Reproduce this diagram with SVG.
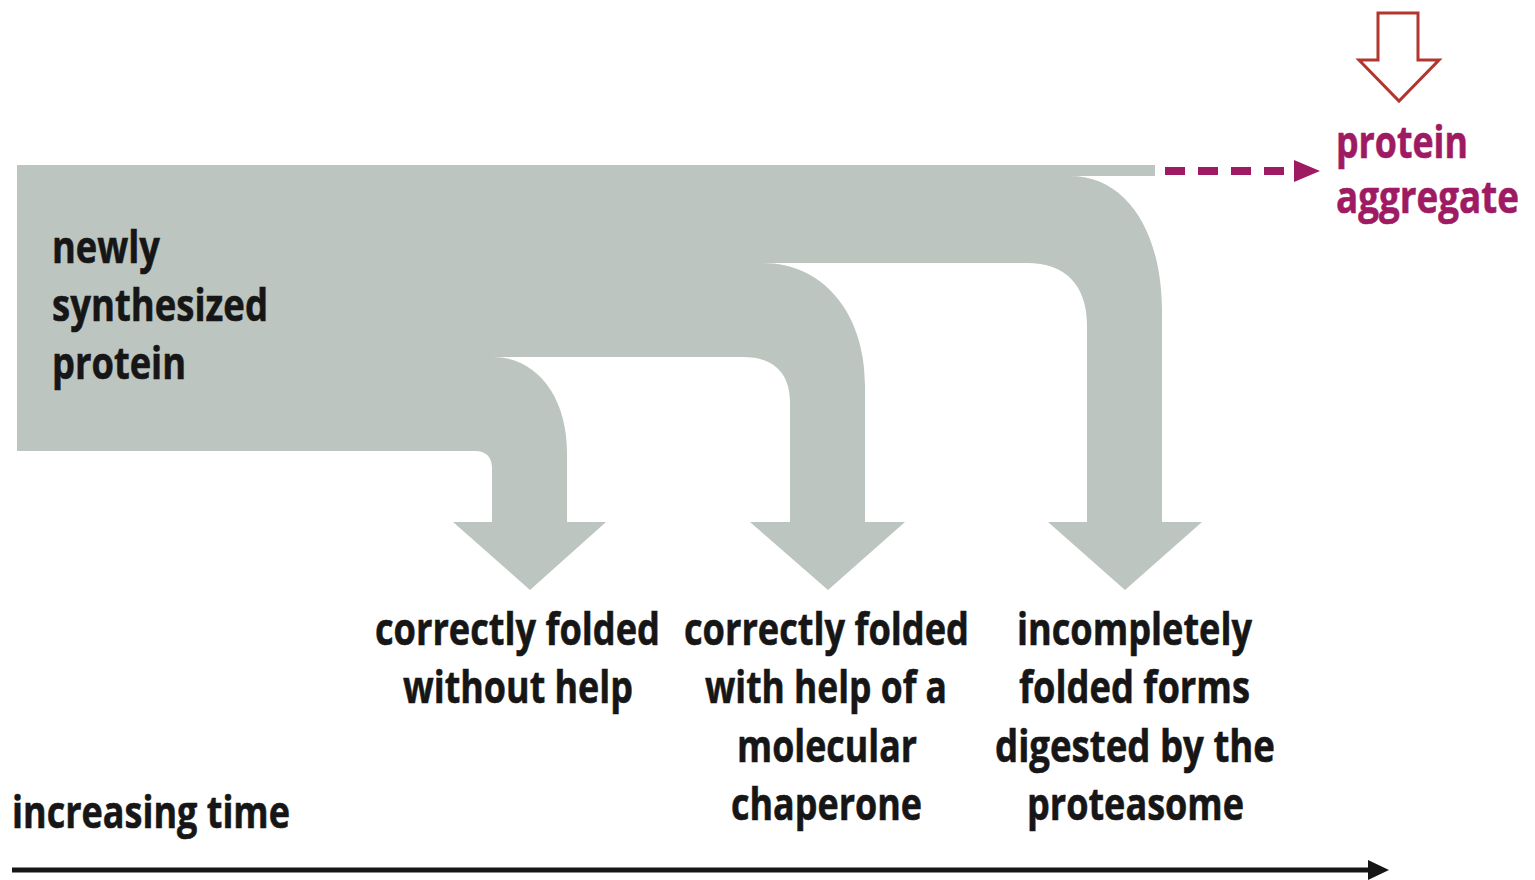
<svg xmlns="http://www.w3.org/2000/svg" width="1535" height="880" viewBox="0 0 1535 880">
<style>
.t{font-family:"Open Sans","Liberation Sans",sans-serif;font-weight:700;font-size:45px;fill:#161616;stroke:#161616;stroke-width:0.6}
.m{fill:#9e1a62;stroke:#9e1a62}
.flow{fill:#bcc5bf}
</style>
<rect width="1535" height="880" fill="#ffffff"/>
<g id="flow">
<path class="flow" d="M17,165 H1155 V176 H1070 C1127,176 1162,232 1162,312 V522 H1202 L1125,590 L1048,522 H1087 V325 C1087,285 1065,263 1027,263 H763 C822,263 865,312 865,385 V522 H905 L828,590 L750,522 H790 V402 C790,375 775,357 743,357 H493 C537,357 567,397 567,452 V522 H606 L530,590 L453,522 H492 V468 C492,458 487,451 475,451 H17 Z"/>
</g>
<g id="source">
<text class="t" x="52" y="263" textLength="108" lengthAdjust="spacingAndGlyphs">newly</text>
<text class="t" x="52" y="321" textLength="216" lengthAdjust="spacingAndGlyphs">synthesized</text>
<text class="t" x="52" y="379" textLength="134" lengthAdjust="spacingAndGlyphs">protein</text>
</g>
<g id="outcome1">
<text class="t" x="375" y="645" textLength="285" lengthAdjust="spacingAndGlyphs">correctly folded</text>
<text class="t" x="403" y="703" textLength="230" lengthAdjust="spacingAndGlyphs">without help</text>
</g>
<g id="outcome2">
<text class="t" x="684" y="645" textLength="285" lengthAdjust="spacingAndGlyphs">correctly folded</text>
<text class="t" x="705" y="703" textLength="242" lengthAdjust="spacingAndGlyphs">with help of a</text>
<text class="t" x="737" y="762" textLength="180" lengthAdjust="spacingAndGlyphs">molecular</text>
<text class="t" x="731" y="820" textLength="191" lengthAdjust="spacingAndGlyphs">chaperone</text>
</g>
<g id="outcome3">
<text class="t" x="1017" y="645" textLength="235" lengthAdjust="spacingAndGlyphs">incompletely</text>
<text class="t" x="1019" y="703" textLength="231" lengthAdjust="spacingAndGlyphs">folded forms</text>
<text class="t" x="995" y="762" textLength="280" lengthAdjust="spacingAndGlyphs">digested by the</text>
<text class="t" x="1027" y="820" textLength="217" lengthAdjust="spacingAndGlyphs">proteasome</text>
</g>
<g id="aggregate">
<text class="t m" x="1336" y="158" textLength="132" lengthAdjust="spacingAndGlyphs">protein</text>
<text class="t m" x="1336" y="213" textLength="183" lengthAdjust="spacingAndGlyphs">aggregate</text>
</g>
<g id="red-arrow">
<path d="M1378,13 H1418 V60 H1439 L1399,101 L1359,60 H1378 Z" fill="#ffffff" stroke="#b2362d" stroke-width="3" stroke-linejoin="miter"/>
</g>
<g id="time-label">
<text class="t" x="12" y="828" textLength="278" lengthAdjust="spacingAndGlyphs">increasing time</text>
</g>
<g id="connectors">
<line x1="1165" y1="171" x2="1297" y2="171" stroke="#9e1a62" stroke-width="8" stroke-dasharray="20 13"/>
<path d="M1294,160 L1320,171 L1294,182 Z" fill="#9e1a62"/>
<line x1="12" y1="870" x2="1372" y2="870" stroke="#161616" stroke-width="5"/>
<path d="M1368,860 L1389,870 L1368,880 Z" fill="#161616"/>
</g>
</svg>
